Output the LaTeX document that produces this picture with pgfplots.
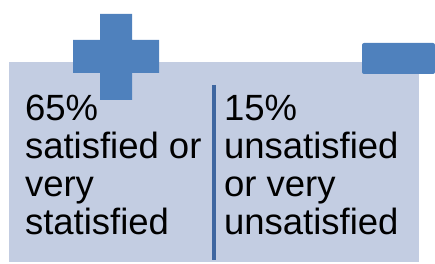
\documentclass[border=0pt]{standalone}
\usepackage{pgfplots}
\pgfplotsset{compat=1.18}
\usepackage{fontspec}
\setmainfont{Liberation Sans}
\definecolor{bgc}{RGB}{195,205,226}
\definecolor{shapec}{RGB}{79,129,189}
\definecolor{linec}{RGB}{62,102,160}
\tikzset{lbl/.style={font=\fontsize{36.5}{37.5}\selectfont, inner sep=0pt, outer sep=0pt, anchor=base west, text=black}}
\begin{document}
\begin{tikzpicture}
\useasboundingbox (0,0) rectangle (435pt,264pt);
\begin{axis}[
  at={(0,0)}, anchor=south west,
  scale only axis, width=435pt, height=264pt,
  xmin=0, xmax=435, ymin=0, ymax=264, y dir=reverse,
  hide axis, clip=false,
]
% background panel
\addplot[fill=bgc, draw=none] coordinates {(9,62) (419,62) (419,262) (9,262)} -- cycle;
% divider
\addplot[draw=linec, line width=4pt] coordinates {(214,85) (214,260)};
% plus sign
\addplot[fill=shapec, draw=none] coordinates {(100,14) (132,14) (132,40) (159,40) (159,73) (132,73) (132,100) (100,100) (100,73) (73,73) (73,40) (100,40)} -- cycle;
% minus sign
\addplot[fill=shapec, draw=none, rounded corners=2pt] coordinates {(362,43) (435,43) (435,74) (362,74)} -- cycle;
% left text
\node[lbl] at (axis cs:25,121) {65\%};
\node[lbl] at (axis cs:25,159) {satisfied or};
\node[lbl] at (axis cs:25,196) {very};
\node[lbl] at (axis cs:25,234) {statisfied};
% right text
\node[lbl] at (axis cs:224,121) {15\%};
\node[lbl] at (axis cs:224,159) {unsatisfied};
\node[lbl] at (axis cs:224,196) {or very};
\node[lbl] at (axis cs:224,234) {unsatisfied};
\end{axis}
\end{tikzpicture}
\end{document}
